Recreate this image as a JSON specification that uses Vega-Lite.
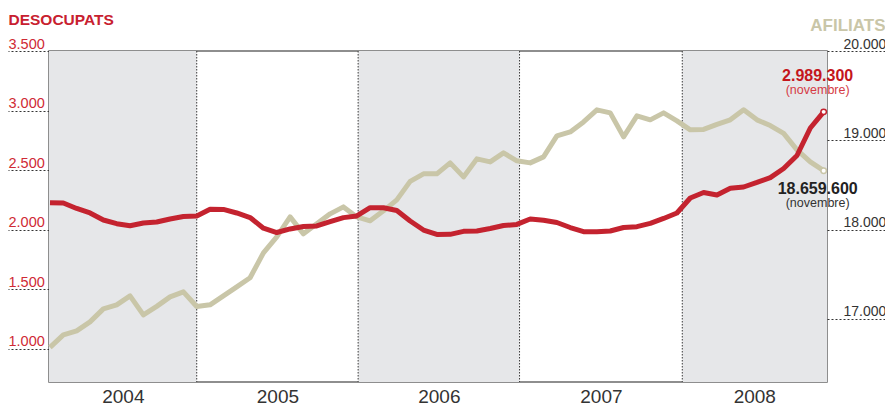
{
  "$schema": "https://vega.github.io/schema/vega-lite/v6.json",
  "width": 778,
  "height": 331,
  "autosize": {"type": "none"},
  "padding": {"left": 49, "top": 51, "right": 58, "bottom": 25},
  "background": "white",
  "config": {
    "view": {"stroke": "#6a6a6a", "strokeWidth": 1.5},
    "font": "Liberation Sans"
  },
  "datasets": {
    "desocupats": [
      {"mes": 0, "valor": 2227}, {"mes": 1, "valor": 2225}, {"mes": 2, "valor": 2179}, {"mes": 3, "valor": 2141},
      {"mes": 4, "valor": 2082}, {"mes": 5, "valor": 2051}, {"mes": 6, "valor": 2034}, {"mes": 7, "valor": 2057},
      {"mes": 8, "valor": 2065}, {"mes": 9, "valor": 2091}, {"mes": 10, "valor": 2112}, {"mes": 11, "valor": 2116},
      {"mes": 12, "valor": 2172}, {"mes": 13, "valor": 2171}, {"mes": 14, "valor": 2141}, {"mes": 15, "valor": 2103},
      {"mes": 16, "valor": 2013}, {"mes": 17, "valor": 1977}, {"mes": 18, "valor": 2007}, {"mes": 19, "valor": 2027},
      {"mes": 20, "valor": 2032}, {"mes": 21, "valor": 2068}, {"mes": 22, "valor": 2102}, {"mes": 23, "valor": 2116},
      {"mes": 24, "valor": 2185}, {"mes": 25, "valor": 2185}, {"mes": 26, "valor": 2162}, {"mes": 27, "valor": 2074},
      {"mes": 28, "valor": 1998}, {"mes": 29, "valor": 1961}, {"mes": 30, "valor": 1962}, {"mes": 31, "valor": 1987},
      {"mes": 32, "valor": 1990}, {"mes": 33, "valor": 2011}, {"mes": 34, "valor": 2036}, {"mes": 35, "valor": 2045},
      {"mes": 36, "valor": 2091}, {"mes": 37, "valor": 2080}, {"mes": 38, "valor": 2061}, {"mes": 39, "valor": 2019},
      {"mes": 40, "valor": 1984}, {"mes": 41, "valor": 1984}, {"mes": 42, "valor": 1990}, {"mes": 43, "valor": 2019},
      {"mes": 44, "valor": 2026}, {"mes": 45, "valor": 2054}, {"mes": 46, "valor": 2095}, {"mes": 47, "valor": 2141},
      {"mes": 48, "valor": 2267}, {"mes": 49, "valor": 2313}, {"mes": 50, "valor": 2292}, {"mes": 51, "valor": 2348},
      {"mes": 52, "valor": 2359}, {"mes": 53, "valor": 2397}, {"mes": 54, "valor": 2438}, {"mes": 55, "valor": 2514},
      {"mes": 56, "valor": 2623}, {"mes": 57, "valor": 2854}, {"mes": 58, "valor": 2989.3}
    ],
    "afiliats": [
      {"mes": 0, "valor": 16681}, {"mes": 1, "valor": 16821}, {"mes": 2, "valor": 16866}, {"mes": 3, "valor": 16966},
      {"mes": 4, "valor": 17112}, {"mes": 5, "valor": 17157}, {"mes": 6, "valor": 17258}, {"mes": 7, "valor": 17045},
      {"mes": 8, "valor": 17140}, {"mes": 9, "valor": 17246}, {"mes": 10, "valor": 17302}, {"mes": 11, "valor": 17138},
      {"mes": 12, "valor": 17157}, {"mes": 13, "valor": 17258}, {"mes": 14, "valor": 17358}, {"mes": 15, "valor": 17460},
      {"mes": 16, "valor": 17739}, {"mes": 17, "valor": 17918}, {"mes": 18, "valor": 18142}, {"mes": 19, "valor": 17952},
      {"mes": 20, "valor": 18064}, {"mes": 21, "valor": 18176}, {"mes": 22, "valor": 18254}, {"mes": 23, "valor": 18142},
      {"mes": 24, "valor": 18098}, {"mes": 25, "valor": 18210}, {"mes": 26, "valor": 18333}, {"mes": 27, "valor": 18540},
      {"mes": 28, "valor": 18624}, {"mes": 29, "valor": 18624}, {"mes": 30, "valor": 18747}, {"mes": 31, "valor": 18590},
      {"mes": 32, "valor": 18792}, {"mes": 33, "valor": 18758}, {"mes": 34, "valor": 18859}, {"mes": 35, "valor": 18770},
      {"mes": 36, "valor": 18747}, {"mes": 37, "valor": 18814}, {"mes": 38, "valor": 19050}, {"mes": 39, "valor": 19094},
      {"mes": 40, "valor": 19206}, {"mes": 41, "valor": 19341}, {"mes": 42, "valor": 19307}, {"mes": 43, "valor": 19038},
      {"mes": 44, "valor": 19274}, {"mes": 45, "valor": 19229}, {"mes": 46, "valor": 19307}, {"mes": 47, "valor": 19218},
      {"mes": 48, "valor": 19117}, {"mes": 49, "valor": 19122}, {"mes": 50, "valor": 19178}, {"mes": 51, "valor": 19229},
      {"mes": 52, "valor": 19341}, {"mes": 53, "valor": 19229}, {"mes": 54, "valor": 19165}, {"mes": 55, "valor": 19077},
      {"mes": 56, "valor": 18893}, {"mes": 57, "valor": 18758}, {"mes": 58, "valor": 18659.6}
    ],
    "anys": [
      {"any": "2004", "inici": -1, "fi": 11.0},
      {"any": "2006", "inici": 23.1, "fi": 35.2},
      {"any": "2008", "inici": 47.4, "fi": 60}
    ],
    "limits": [{"mes": 11.0}, {"mes": 23.1}, {"mes": 35.2}, {"mes": 47.4}]
  },
  "resolve": {"scale": {"y": "independent"}, "axis": {"y": "independent"}},
  "layer": [
    {
      "data": {"name": "anys"},
      "mark": {"type": "rect", "color": "#e6e7e9", "clip": true},
      "encoding": {
        "x": {
          "field": "inici", "type": "quantitative", "title": null,
          "scale": {"domain": [-0.075, 58.25], "nice": false, "zero": false},
          "axis": {
            "values": [5.46, 17.05, 29.15, 41.3, 52.8],
            "labelExpr": "datum.value < 10 ? '2004' : datum.value < 22 ? '2005' : datum.value < 34 ? '2006' : datum.value < 46 ? '2007' : '2008'",
            "ticks": false, "domain": false, "grid": false,
            "labelFontSize": 19, "labelColor": "#333333", "labelPadding": 5,
            "labelFlush": false, "labelOverlap": false, "labelFont": "Liberation Sans",
            "title": null
          }
        },
        "x2": {"field": "fi"}
      }
    },
    {
      "data": {"name": "limits"},
      "mark": {"type": "rule", "color": "#3a3a3a", "strokeDash": [1.5, 1.5], "strokeWidth": 1},
      "encoding": {
        "x": {
          "field": "mes", "type": "quantitative", "title": null,
          "scale": {"domain": [-0.075, 58.25], "nice": false, "zero": false},
          "axis": {
            "values": [5.46, 17.05, 29.15, 41.3, 52.8],
            "labelExpr": "datum.value < 10 ? '2004' : datum.value < 22 ? '2005' : datum.value < 34 ? '2006' : datum.value < 46 ? '2007' : '2008'",
            "ticks": false, "domain": false, "grid": false,
            "labelFontSize": 19, "labelColor": "#333333", "labelPadding": 5,
            "labelFlush": false, "labelOverlap": false, "labelFont": "Liberation Sans",
            "title": null
          }
        }
      }
    },
    {
      "data": {"name": "afiliats"},
      "encoding": {
        "x": {
          "field": "mes", "type": "quantitative", "title": null,
          "axis": {
            "values": [5.46, 17.05, 29.15, 41.3, 52.8],
            "labelExpr": "datum.value < 10 ? '2004' : datum.value < 22 ? '2005' : datum.value < 34 ? '2006' : datum.value < 46 ? '2007' : '2008'",
            "ticks": false, "domain": false, "grid": false,
            "labelFontSize": 19, "labelColor": "#333333", "labelPadding": 5,
            "labelFlush": false, "labelOverlap": false, "labelFont": "Liberation Sans",
            "title": null
          }
        },
        "y": {
          "field": "valor", "type": "quantitative",
          "scale": {"domain": [16293, 20000], "nice": false, "zero": false},
          "axis": {
            "orient": "right",
            "values": [17000, 18000, 19000, 20000],
            "labelExpr": "replace(format(datum.value, ',d'), ',', '.')",
            "tickSize": 58, "tickDash": [2, 2], "tickColor": "#333333", "tickWidth": 1,
            "domain": false, "grid": false,
            "labelAlign": "left", "labelBaseline": "bottom", "labelPadding": -42,
            "labelFontSize": 14, "labelColor": "#333333", "labelFont": "Liberation Sans",
            "title": "AFILIATS", "titleAngle": 0, "titleAlign": "right", "titleBaseline": "alphabetic",
            "titleX": 58, "titleY": -21, "titleFontSize": 17, "titleFontWeight": "bold",
            "titleColor": "#c9c6a8", "titleFont": "Liberation Sans"
          }
        }
      },
      "layer": [
        {"mark": {"type": "line", "color": "#c9c6a8", "strokeWidth": 5, "strokeJoin": "round"}},
        {
          "transform": [{"filter": "datum.mes == 58"}],
          "mark": {"type": "point", "filled": true, "fill": "white", "stroke": "#c9c6a8", "strokeWidth": 1.5, "size": 30, "opacity": 1}
        },
        {
          "transform": [{"filter": "datum.mes == 58"}],
          "mark": {"type": "text", "text": "18.659.600", "dx": -6, "dy": 23, "baseline": "alphabetic", "align": "center", "fontSize": 16, "fontWeight": "bold", "color": "#222222"}
        },
        {
          "transform": [{"filter": "datum.mes == 58"}],
          "mark": {"type": "text", "text": "(novembre)", "dx": -6, "dy": 36, "baseline": "alphabetic", "align": "center", "fontSize": 12.5, "color": "#333333"}
        }
      ]
    },
    {
      "data": {"name": "desocupats"},
      "encoding": {
        "x": {
          "field": "mes", "type": "quantitative", "title": null,
          "axis": {
            "values": [5.46, 17.05, 29.15, 41.3, 52.8],
            "labelExpr": "datum.value < 10 ? '2004' : datum.value < 22 ? '2005' : datum.value < 34 ? '2006' : datum.value < 46 ? '2007' : '2008'",
            "ticks": false, "domain": false, "grid": false,
            "labelFontSize": 19, "labelColor": "#333333", "labelPadding": 5,
            "labelFlush": false, "labelOverlap": false, "labelFont": "Liberation Sans",
            "title": null
          }
        },
        "y": {
          "field": "valor", "type": "quantitative",
          "scale": {"domain": [723, 3500], "nice": false, "zero": false},
          "axis": {
            "orient": "left",
            "values": [1000, 1500, 2000, 2500, 3000, 3500],
            "labelExpr": "replace(format(datum.value, ',d'), ',', '.')",
            "tickSize": 41, "tickDash": [2, 2], "tickColor": "#333333", "tickWidth": 1,
            "domain": false, "grid": false,
            "labelAlign": "left", "labelBaseline": "bottom", "labelPadding": 0,
            "labelFontSize": 14.5, "labelColor": "#cf2a35", "labelFont": "Liberation Sans",
            "title": "DESOCUPATS", "titleAngle": 0, "titleAlign": "left", "titleBaseline": "alphabetic",
            "titleX": -41, "titleY": -27, "titleFontSize": 15.5, "titleFontWeight": "bold",
            "titleColor": "#c8202f", "titleFont": "Liberation Sans"
          }
        }
      },
      "layer": [
        {"mark": {"type": "line", "color": "#c4232f", "strokeWidth": 5, "strokeJoin": "round"}},
        {
          "transform": [{"filter": "datum.mes == 58"}],
          "mark": {"type": "point", "filled": true, "fill": "white", "stroke": "#c4232f", "strokeWidth": 1.5, "size": 30, "opacity": 1}
        },
        {
          "transform": [{"filter": "datum.mes == 58"}],
          "mark": {"type": "text", "text": "2.989.300", "dx": -6, "dy": -31, "baseline": "alphabetic", "align": "center", "fontSize": 16, "fontWeight": "bold", "color": "#c4161c"}
        },
        {
          "transform": [{"filter": "datum.mes == 58"}],
          "mark": {"type": "text", "text": "(novembre)", "dx": -6, "dy": -18, "baseline": "alphabetic", "align": "center", "fontSize": 12.5, "color": "#d53a45"}
        }
      ]
    }
  ]
}
